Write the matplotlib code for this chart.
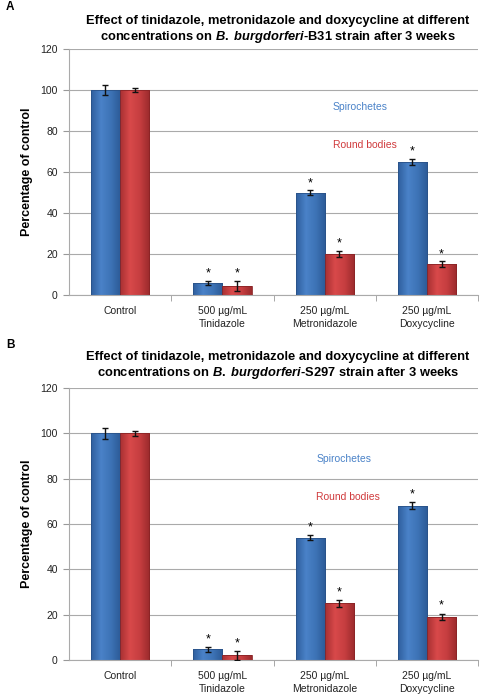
import numpy as np
import matplotlib
matplotlib.use("Agg")
import matplotlib.pyplot as plt
from matplotlib.colors import LinearSegmentedColormap

plt.rcParams['font.family'] = ['Liberation Sans', 'DejaVu Sans']
plt.rcParams['mathtext.fontset'] = 'custom'
plt.rcParams['mathtext.it'] = 'Liberation Sans:italic:bold'
plt.rcParams['mathtext.rm'] = 'Liberation Sans:bold'

categories = ["Control", "500 \u00b5g/mL\nTinidazole", "250 \u00b5g/mL\nMetronidazole", "250 \u00b5g/mL\nDoxycycline"]
series_names = ["Spirochetes", "Round bodies"]

# Panel A (B31)
a_spiro = [100, 6, 50, 65]
a_spiro_err = [2.5, 1.0, 1.0, 1.5]
a_round = [100, 4.4, 20, 15]
a_round_err = [1.0, 2.5, 1.5, 1.5]
a_spiro_star = [False, True, True, True]
a_round_star = [False, True, True, True]

# Panel B (S297)
b_spiro = [100, 4.7, 54, 68]
b_spiro_err = [2.5, 1.0, 1.0, 1.5]
b_round = [100, 2.0, 25, 19]
b_round_err = [1.2, 2.0, 1.5, 1.5]
b_spiro_star = [False, True, True, True]
b_round_star = [False, True, True, True]

yticks = [0, 20, 40, 60, 80, 100, 120]

blue_cmap = LinearSegmentedColormap.from_list("b", ["#2f5f9e", "#4a82c8", "#3d73b6", "#2c5a96"])
red_cmap = LinearSegmentedColormap.from_list("r", ["#a83032", "#d8494a", "#c63e40", "#9a2a2c"])
grad = np.linspace(0, 1, 64).reshape(1, -1)

H = 694.0
fig = plt.figure(figsize=(4.82, 6.94), dpi=100)

def py(p):
    return 1 - p / H

def panel(rect, spiro, spiro_err, rnd, rnd_err, s_star, r_star, strain, letter, letter_y, title_y, leg1, leg2):
    ax = fig.add_axes(rect)
    x = np.arange(len(categories))
    w = 0.285
    for vals, errs, stars, off, cmap, edge in [
        (spiro, spiro_err, s_star, -w / 2, blue_cmap, "#2a5288"),
        (rnd, rnd_err, r_star, w / 2, red_cmap, "#8a2426")]:
        bars = ax.bar(x + off, vals, w, color="none", edgecolor=edge, linewidth=0.6, zorder=3)
        for b in bars:
            x0, y0 = b.get_x(), b.get_y()
            im = ax.imshow(grad, cmap=cmap, aspect='auto', extent=(x0, x0 + b.get_width(), y0, y0 + b.get_height()), zorder=2.5)
            im.set_clip_path(b)
        ax.errorbar(x + off, vals, yerr=errs, fmt='none', ecolor='#111111', elinewidth=1.0, capsize=2.5, capthick=1.0, zorder=4)
        for xi, v, e, s in zip(x + off, vals, errs, stars):
            if s:
                ax.text(xi, v + e + 3.5, "*", ha='center', va='center', fontsize=9, zorder=5)
    ax.set_xlim(-0.5, 3.5)
    ax.set_ylim(0, 120)
    ax.set_yticks(yticks)
    ax.set_xticks(x)
    ax.set_xticklabels(categories, fontsize=7.5, color='#222222', linespacing=1.3)
    ax.set_xticks(np.arange(0.5, 3.6, 1.0), minor=True)
    ax.tick_params(axis='x', which='major', length=0, pad=8)
    ax.tick_params(axis='x', which='minor', length=4, color='#999999', direction='out')
    ax.tick_params(axis='y', length=4, color='#999999', labelsize=7.5, labelcolor='#222222', pad=4)
    ax.yaxis.grid(True, color='#aaaaaa', linewidth=0.8, zorder=0)
    ax.set_axisbelow(True)
    for s in ['top', 'right']:
        ax.spines[s].set_visible(False)
    ax.spines['left'].set_color('#aaaaaa')
    ax.spines['bottom'].set_color('#aaaaaa')
    ax.spines['left'].set_linewidth(0.8)
    ax.spines['bottom'].set_linewidth(0.8)
    ax.set_ylabel("Percentage of control", fontsize=9, fontweight='bold', labelpad=5)
    fig.text(0.012, py(letter_y), letter, fontsize=8.5, fontweight='bold', va='center')
    fig.text(0.577, py(title_y), "Effect of tinidazole, metronidazole and doxycycline at different",
             ha='center', va='center', fontsize=9.3, fontweight='bold')
    fig.text(0.577, py(title_y + 16), r"concentrations on $\mathit{B.}$ $\mathit{burgdorferi}$-" + strain + " strain after 3 weeks",
             ha='center', va='center', fontsize=9.3, fontweight='bold')
    fig.text(leg1[0], py(leg1[1]), series_names[0], color='#4a82c8', fontsize=7.5, va='center')
    fig.text(leg2[0], py(leg2[1]), series_names[1], color='#d03a3c', fontsize=7.5, va='center')
    return ax

panel([0.143, py(295), 0.849, (295 - 49) / H], a_spiro, a_spiro_err, a_round, a_round_err, a_spiro_star, a_round_star,
      "B31", "A", 7, 21, (0.691, 107), (0.691, 145))
panel([0.143, py(660), 0.849, (660 - 388) / H], b_spiro, b_spiro_err, b_round, b_round_err, b_spiro_star, b_round_star,
      "S297", "B", 345, 357, (0.656, 459), (0.656, 497))

fig.savefig("out.png", dpi=100)
